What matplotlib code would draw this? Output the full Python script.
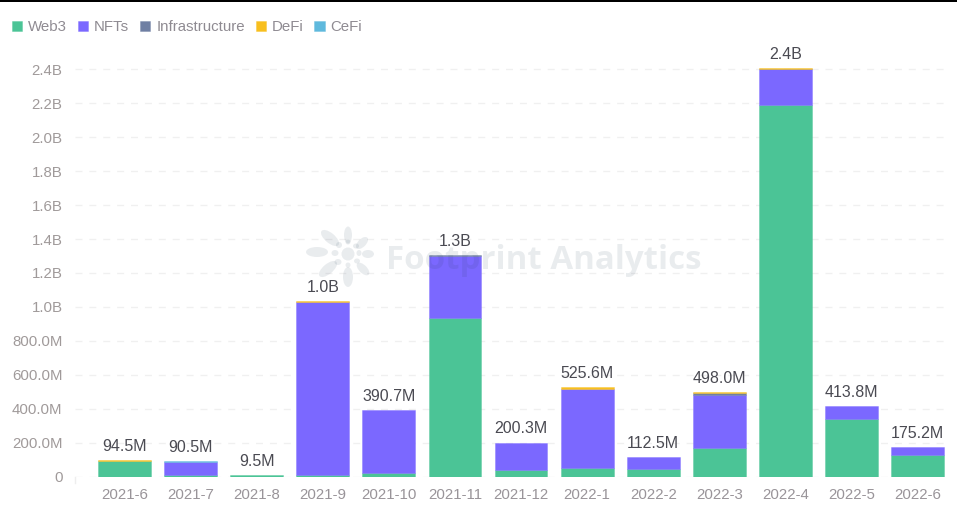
import numpy as np
import matplotlib
matplotlib.use('Agg')
import matplotlib.pyplot as plt
from matplotlib.colors import to_rgba
from matplotlib.patches import Ellipse, Rectangle

plt.rcParams['font.family'] = ['Liberation Sans', 'DejaVu Sans']

months = ['2021-6', '2021-7', '2021-8', '2021-9', '2021-10', '2021-11', '2021-12',
          '2022-1', '2022-2', '2022-3', '2022-4', '2022-5', '2022-6']

# values in millions
web3 = [89.5, 8, 9.5, 10, 22, 933, 36, 52, 42, 170, 2190, 337, 125]
nfts = [0, 78.5, 0, 1017, 368.7, 367, 164.3, 465, 70.5, 309, 212, 76.8, 50.2]
infra = [0, 0, 0, 0, 0, 6, 0, 0, 0, 14, 3, 0, 0]
defi = [5, 0, 0, 7, 0, 0, 0, 8.6, 0, 5, 5, 0, 0]
cefi = [0, 4, 0, 0, 0, 0, 0, 0, 0, 0, 0, 0, 0]

totals = ['94.5M', '90.5M', '9.5M', '1.0B', '390.7M', '1.3B', '200.3M',
          '525.6M', '112.5M', '498.0M', '2.4B', '413.8M', '175.2M']

y_ticks = [0, 200, 400, 600, 800, 1000, 1200, 1400, 1600, 1800, 2000, 2200, 2400]
y_labels = ['0', '200.0M', '400.0M', '600.0M', '800.0M', '1.0B', '1.2B', '1.4B',
            '1.6B', '1.8B', '2.0B', '2.2B', '2.4B']

series = [('Web3', web3, '#4bc496'), ('NFTs', nfts, '#7b68ff'),
          ('Infrastructure', infra, '#6f7fa3'), ('DeFi', defi, '#f8bf1e'),
          ('CeFi', cefi, '#5fb9dd')]

W, H = 957, 513
fig = plt.figure(figsize=(W / 100, H / 100), dpi=100)

# plot area in pixels
left, right, top, bottom = 75, 950, 52.5, 476.5
ax = fig.add_axes([left / W, 1 - bottom / H, (right - left) / W, (bottom - top) / H])

x = np.arange(len(months))
bottoms = np.zeros(len(months))
for name, vals, color in series:
    vals = np.array(vals, dtype=float)
    # skip empty segments, their edges would show as lines
    keep = vals > 0
    ax.bar(x[keep], vals[keep], width=0.8, bottom=bottoms[keep], color=color,
           edgecolor=to_rgba(color, 0.5), linewidth=0.5, label=name, zorder=3)
    bottoms += vals

for i, label in enumerate(totals):
    ax.annotate(label, (x[i], bottoms[i]), xytext=(0, 4.5), textcoords='offset points',
                ha='center', va='bottom', fontsize=11.5, color='#4a4a52', zorder=5)

ax.set_xlim(-0.749, 12.49)
ax.set_ylim(0, 2500)
ax.set_yticks(y_ticks)
ax.set_yticklabels(y_labels)
ax.set_xticks(x)
ax.set_xticklabels(months)
ax.tick_params(axis='y', length=0, pad=9, labelsize=10.8, labelcolor='#a09a9a')
ax.tick_params(axis='x', length=0, pad=8, labelsize=10.8, labelcolor='#999499')
ax.grid(axis='y', color='#f0f0f0', linewidth=1, linestyle=(0, (5, 5)), zorder=0)
ax.set_axisbelow(True)
for side in ['top', 'right', 'left', 'bottom']:
    ax.spines[side].set_visible(False)

handles, labels = ax.get_legend_handles_labels()
fig.legend(handles, labels, loc='upper left', bbox_to_anchor=(12 / W, 1 - 20 / H), ncol=5,
           frameon=False, fontsize=10.8, labelcolor='#8f8b92', handlelength=0.68,
           handleheight=0.68, handletextpad=0.4, columnspacing=0.72, borderpad=0,
           borderaxespad=0)

# overlay in pixel coordinates: top band, axis tick, watermark
over = fig.add_axes([0, 0, 1, 1], zorder=10)
over.set_xlim(0, W)
over.set_ylim(H, 0)
over.axis('off')
over.add_patch(Rectangle((0, 0), W, 2, color='black', lw=0))
over.plot([75, 75], [477, 483], color='#eeeeee', lw=1)

wm_color = '#1f3b52'
wm_alpha = 0.095
over.text(386, 269, 'Footprint Analytics', fontsize=23.8, fontweight='bold', color=wm_color,
          alpha=wm_alpha, ha='left', va='baseline', family='Open Sans')

# logo pieces: x, y, long, short, angle
logo = [(317, 252, 22, 10, 0), (330, 238, 22, 10, 40), (348, 235, 17, 8, 90),
        (362, 243, 15, 8, -45), (368, 254, 12, 8, 0), (363, 269, 16, 8, 45),
        (348, 277, 20, 10, 90), (328, 269, 22, 10, -40),
        (335, 253, 7, 6, 0), (339, 245, 6, 6, 0), (348, 242, 5, 5, 0), (356, 246, 6, 5, 0),
        (359, 253, 5, 6, 0), (357, 261, 6, 5, 0), (348, 265, 5, 5, 0), (338, 262, 7, 6, 0),
        (348, 254, 13, 13, 0)]
for px, py, long_, short, ang in logo:
    over.add_patch(Ellipse((px, py), long_, short, angle=ang, color=wm_color,
                           alpha=wm_alpha, lw=0))

fig.savefig('out.png', dpi=100)
